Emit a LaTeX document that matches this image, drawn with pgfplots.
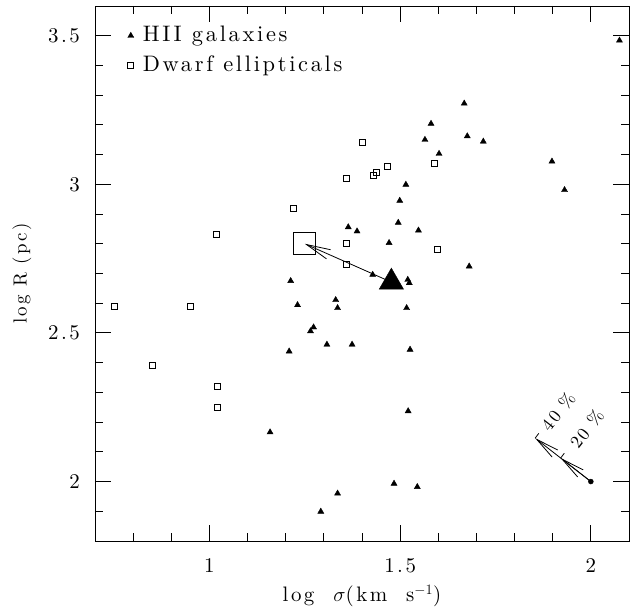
\documentclass[border=0pt]{standalone}
\usepackage{fontspec}
\setmainfont{lmroman10-regular.otf}[LetterSpace=12]
\usepackage{pgfplots}
\pgfplotsset{compat=1.18}
\usetikzlibrary{arrows.meta}

\begin{document}
\fontsize{21}{25}\selectfont
\begin{tikzpicture}[font=\fontsize{21}{25}\selectfont]
\begin{axis}[
    scale only axis,
    width=534bp, height=535bp,
    xmin=0.7, xmax=2.1,
    ymin=1.8, ymax=3.6,
    xtick={1,1.5,2},
    ytick={2,2.5,3,3.5},
    minor xtick={0.8,0.9,1.1,1.2,1.3,1.4,1.6,1.7,1.8,1.9},
    minor ytick={1.9,2.1,2.2,2.3,2.4,2.6,2.7,2.8,2.9,3.1,3.2,3.3,3.4},
    tick align=inside,
    major tick length=16bp,
    minor tick length=8bp,
    every tick/.style={black, line width=0.9bp},
    axis line style={line width=0.9bp},
    /pgf/number format/assume math mode=true,
    tick label style={font=\fontsize{21}{25}\selectfont},
    xticklabel style={yshift=-10bp},
    yticklabel style={xshift=-8bp},
    xlabel={log\ \ $\sigma$(km\ \ s$^{-1}$)},
    ylabel={log R (pc)},
    xlabel style={at={(axis description cs:0.5,-0.1028)}, anchor=center,
        font=\fontsize{21}{25}\selectfont},
    ylabel style={at={(axis description cs:-0.1367,0.5)}, anchor=center,
        font=\fontsize{19}{23}\selectfont},
    legend style={draw=none, fill=none, at={(axis description cs:0.061,0.966)},
        anchor=north west, row sep=7bp, column sep=7bp, inner sep=0pt,
        font=\fontsize{22.5}{27}\selectfont},
    legend cell align=left,
    legend image code/.code={\draw[mark repeat=2,mark phase=2,#1]
        plot coordinates {(0cm,0cm)(0.15cm,0cm)(0.6cm,0cm)};},
]
% arrow from the HII mean to the dE mean
\addplot[forget plot, line width=0.8bp, -{Straight Barb[length=24bp,width=10bp,line width=0.8bp]}]
    coordinates {(1.477,2.671) (1.250,2.800)};
% 20% and 40% vectors
\addplot[forget plot, line width=0.8bp, -{Straight Barb[length=23bp,width=9bp,line width=0.8bp]}]
    coordinates {(2,2) (1.9208,2.0792)};
\addplot[forget plot, line width=0.8bp, -{Straight Barb[length=23bp,width=9bp,line width=0.8bp]}]
    coordinates {(2,2) (1.8539,2.1461)};
\addplot[forget plot, only marks, mark=*, mark size=2.5bp, black] coordinates {(2,2)};
\draw[line width=0.8bp] (axis cs:1.8539,2.1461) -- ++(52.4:6bp);
\draw[line width=0.8bp] (axis cs:1.9208,2.0792) -- ++(52.4:6bp);
\node[rotate=52, font=\fontsize{18}{21}\selectfont] at (axis cs:1.914,2.236) {40 \%};
\node[rotate=52, font=\fontsize{18}{21}\selectfont] at (axis cs:1.989,2.177) {20 \%};

% HII galaxies
\addplot[only marks, mark=triangle*, mark size=3.5bp, black] coordinates {
    (2.075,3.484) (1.668,3.272) (1.581,3.204) (1.565,3.150) (1.676,3.162)
    (1.718,3.144) (1.602,3.103) (1.898,3.077) (1.931,2.981) (1.515,2.999)
    (1.499,2.945) (1.364,2.856) (1.387,2.842) (1.495,2.871) (1.548,2.845)
    (1.471,2.803) (1.681,2.724) (1.428,2.696) (1.520,2.679) (1.524,2.668)
    (1.213,2.675) (1.231,2.594) (1.331,2.611) (1.336,2.584) (1.273,2.519)
    (1.265,2.506) (1.308,2.461) (1.374,2.461) (1.209,2.438) (1.517,2.584)
    (1.526,2.444) (1.521,2.237) (1.159,2.166) (1.336,1.960) (1.292,1.899)
    (1.484,1.993) (1.545,1.982)
};
\addlegendentry{HII galaxies}
% Dwarf ellipticals
\addplot[only marks, mark=square, mark size=3bp, black, mark options={line width=0.9bp}] coordinates {
    (1.400,3.140) (1.360,3.020) (1.429,3.030) (1.438,3.041) (1.466,3.060)
    (1.589,3.071) (1.219,2.920) (1.019,2.830) (1.360,2.800) (1.360,2.730)
    (1.599,2.780) (0.750,2.590) (0.950,2.590) (0.850,2.390) (1.020,2.320)
    (1.020,2.250)
};
\addlegendentry{Dwarf ellipticals}
% mean values
\addplot[forget plot, only marks, mark=triangle*, mark size=14bp, black] coordinates {(1.477,2.671)};
\addplot[forget plot, only marks, mark=square, mark size=11bp, black, mark options={line width=0.8bp}] coordinates {(1.250,2.800)};
\end{axis}
\pgfresetboundingbox
\path (-95bp,-68bp) rectangle (539bp,541bp);
\end{tikzpicture}
\end{document}
